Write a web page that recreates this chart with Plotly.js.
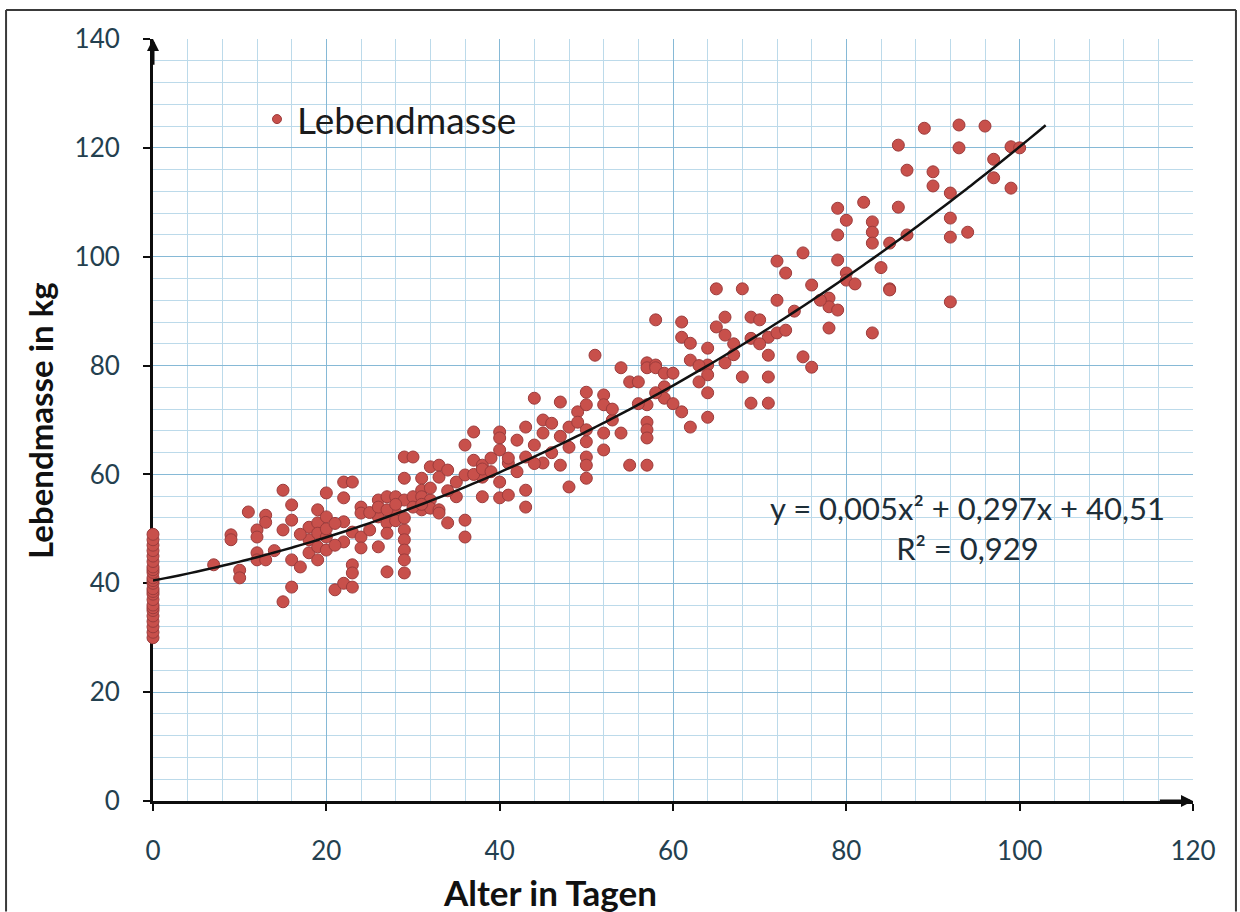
<!DOCTYPE html>
<html>
<head>
<meta charset="utf-8">
<script src="https://cdn.plot.ly/plotly-3.0.1.min.js"></script>
<style>html,body{margin:0;padding:0;background:#fff;}#chart{width:1240px;height:912px;}</style>
</head>
<body>
<div id="chart"></div>
<script>
// Measured points: age in days (x) and live mass in kg (y)
const ageDays = [
  0,0,0,0,0,0,0,0,0,0,0,0,0,0,0,0,0,0,0,0,0,0,0,0,
  7,9,9,10,10,11,12,12,12,12,13,13,13,15,15,15,16,16,16,16,17,18,18,18,
  19,19,19,19,19,20,20,20,20,21,22,22,22,22,22,23,23,23,23,23,24,24,24,24,
  25,26,26,26,27,27,27,27,28,28,29,29,29,29,29,29,29,29,30,30,31,31,31,31,
  32,32,32,33,33,33,33,34,34,35,35,36,36,36,36,37,37,38,38,38,
  40,40,40,40,40,41,41,42,43,43,43,43,44,44,45,45,45,46,47,47,48,48,49,49,
  50,50,50,50,50,50,50,51,52,52,52,52,54,54,55,55,56,
  57,57,57,57,57,57,57,58,58,58,59,59,59,60,61,61,61,62,62,62,
  64,64,64,64,64,65,65,66,66,66,68,68,69,69,70,71,71,71,71,72,72,72,73,73,
  75,75,76,76,78,78,78,79,79,79,79,80,80,80,82,83,83,83,83,85,85,85,86,86,87,87,
  89,90,90,92,92,92,92,93,93,94,96,97,97,99,99,100,
  14,17,20,21,21,25,26,27,28,28,29,30,31,32,34,37,38,39,39,41,42,44,46,47,48,
  53,53,56,58,60,63,63,67,67,69,70,74,77,81,84
];
const massKg = [
  30,31,32,33,34,35,35.5,36,37,38,38.5,39,40,40.5,41,42,42.5,43,44,45,46,47,48,49,
  43.4,48.9,48.0,42.4,41.0,53.1,49.8,48.5,45.6,44.3,52.5,51.2,44.3,57.1,49.8,36.6,54.4,51.6,44.3,39.3,43.0,50.3,48.0,45.6,
  53.5,51.1,49.2,46.7,44.3,56.6,52.2,48.5,46.1,38.8,58.6,55.7,51.3,47.6,40.0,58.6,49.4,43.4,41.9,39.3,54.0,52.9,48.5,46.5,
  49.8,55.3,52.2,46.7,51.1,49.2,42.1,55.9,55.9,53.0,63.2,59.3,55.3,49.8,48.0,46.1,44.3,41.9,63.2,55.9,59.3,57.1,55.9,53.5,
  61.4,55.3,53.8,61.7,59.5,53.5,52.9,60.8,51.1,58.6,55.9,65.4,59.9,51.6,48.5,67.8,62.6,61.7,59.5,55.9,
  67.8,66.7,64.5,58.6,55.7,62.1,56.2,66.3,68.7,63.2,57.1,54.0,74.0,65.4,70.0,67.6,62.1,69.4,73.3,61.7,68.7,57.7,71.5,69.6,
  75.1,72.8,68.2,66.0,63.2,61.7,59.3,81.9,74.6,72.8,67.6,64.5,79.6,67.6,77.0,61.7,77.0,
  80.5,79.6,72.8,69.6,68.2,66.7,61.7,88.4,80.1,79.6,78.6,76.1,74.0,78.6,88.0,85.2,71.5,84.1,81.0,68.7,
  83.2,80.1,78.3,75.0,70.5,94.1,87.1,88.9,85.6,80.5,94.1,77.9,88.9,73.1,88.4,85.2,81.9,77.9,73.1,99.2,92.0,86.0,97.0,86.5,
  100.7,81.6,94.8,79.7,92.4,90.8,86.9,108.9,104.0,99.4,90.2,106.7,97.0,95.7,110.0,106.4,104.5,102.5,86.0,102.5,94.1,93.9,120.5,109.1,115.9,104.0,
  123.6,115.6,113.0,111.7,107.1,103.6,91.7,124.2,120.0,104.5,124.0,117.9,114.5,120.2,112.6,120.0,
  46.0,49.0,50.0,51.0,47.0,53.0,54.0,53.5,54.5,51.5,52.0,54.0,54.5,57.5,57.0,60.0,61.0,60.5,63.0,63.0,60.5,62.0,64.0,67.0,65.0,
  70.0,72.0,73.0,75.0,73.0,80.0,77.0,84.0,82.0,85.0,84.0,90.0,92.0,95.0,98.0
];
// Trendline coefficients as printed in the chart
const trendCoef = {a: 0.005, b: 0.297, c: 40.51};
const trendEndDay = 103;
const xTicks = [0, 20, 40, 60, 80, 100, 120];
const yTicks = [0, 20, 40, 60, 80, 100, 120, 140];
const seriesName = 'Lebendmasse';
const eqText = 'y = 0,005x² + 0,297x + 40,51<br>R² = 0,929';

const trendX = [], trendY = [];
for (let d = 0; d <= trendEndDay; d += 1) {
  trendX.push(d);
  trendY.push(trendCoef.a * d * d + trendCoef.b * d + trendCoef.c);
}

const FONT = 'Lato, "Open Sans", sans-serif';
const TICKCOL = '#23404f';
const MARKER = {color: '#c8504b', line: {width: 1, color: '#9c3c3c'}};

const traces = [
  {
    x: ageDays, y: massKg, type: 'scatter', mode: 'markers', name: seriesName,
    cliponaxis: false, showlegend: false,
    marker: Object.assign({size: 12}, MARKER)
  },
  {
    x: trendX, y: trendY, type: 'scatter', mode: 'lines', showlegend: false,
    line: {color: '#111111', width: 2.5, shape: 'spline'}, hoverinfo: 'skip'
  },
  {
    // legend entry only (smaller symbol, as in the original legend)
    x: [null], y: [null], type: 'scatter', mode: 'markers', name: seriesName,
    showlegend: true, marker: Object.assign({size: 9}, MARKER)
  }
];

const axisCommon = {
  showline: true, linecolor: '#0d0d0d', linewidth: 3,
  ticks: 'outside', ticklen: 7, tickwidth: 2, tickcolor: '#0d0d0d',
  showgrid: true, gridcolor: '#86b9d6', gridwidth: 1,
  zeroline: false, layer: 'below traces',
  tickfont: {family: FONT, size: 26, color: TICKCOL},
  fixedrange: true
};

const layout = {
  width: 1240, height: 912,
  margin: {l: 153, r: 47, t: 39, b: 111},
  paper_bgcolor: '#ffffff', plot_bgcolor: '#ffffff',
  font: {family: FONT, color: '#111'},
  xaxis: Object.assign({}, axisCommon, {
    range: [0, 120], tickvals: xTicks, ticktext: xTicks.map(String),
    ticklabelstandoff: 18,
    minor: {dtick: 4, tick0: 0, showgrid: true, gridcolor: '#bcdaea', gridwidth: 1, ticks: ''}
  }),
  yaxis: Object.assign({}, axisCommon, {
    range: [0, 140], tickvals: yTicks, ticktext: yTicks.map(String),
    ticklabelstandoff: 18,
    minor: {dtick: 4, tick0: 0, showgrid: true, gridcolor: '#bcdaea', gridwidth: 1, ticks: ''}
  }),
  showlegend: true,
  legend: {
    x: 0.1, y: 0.935, xanchor: 'left', yanchor: 'top',
    bgcolor: 'rgba(255,255,255,0)', borderwidth: 0,
    font: {family: FONT, size: 37, color: '#1b1b1b'},
    itemwidth: 30
  },
  annotations: [
    {xref: 'x', yref: 'y', x: 94, y: 50.2, text: eqText, showarrow: false,
     font: {family: FONT, size: 31, color: '#1d2e38'}, align: 'center', xanchor: 'center', yanchor: 'middle'},
    {xref: 'paper', yref: 'paper', x: 0.382, y: -0.119, text: '<b>Alter in Tagen</b>', showarrow: false,
     borderpad: 0, font: {family: FONT, size: 35, color: '#111'}, xanchor: 'center', yanchor: 'middle'},
    {xref: 'paper', yref: 'paper', x: -0.1087, y: 0.5, text: '<b>Lebendmasse in kg</b>', showarrow: false,
     textangle: -90, font: {family: FONT, size: 33, color: '#111'}, xanchor: 'center', yanchor: 'middle'},
    {xref: 'x', yref: 'y', axref: 'x', ayref: 'y', x: 120, y: 0, ax: 116, ay: 0, text: '', showarrow: true,
     arrowhead: 2, arrowsize: 0.8, arrowwidth: 3, arrowcolor: '#0d0d0d'},
    {xref: 'x', yref: 'y', axref: 'x', ayref: 'y', x: 0, y: 140, ax: 0, ay: 135, text: '', showarrow: true,
     arrowhead: 2, arrowsize: 0.8, arrowwidth: 3, arrowcolor: '#0d0d0d'}
  ],
  shapes: [
    {type: 'line', xref: 'paper', yref: 'paper', x0: -0.1413, x1: 1.0413, y0: 1.038, y1: 1.038, line: {color: '#3a3a3a', width: 2}},
    {type: 'line', xref: 'paper', yref: 'paper', x0: -0.1413, x1: -0.1413, y0: 1.038, y1: -0.145, line: {color: '#3a3a3a', width: 2}},
    {type: 'line', xref: 'paper', yref: 'paper', x0: 1.0413, x1: 1.0413, y0: 1.038, y1: -0.145, line: {color: '#3a3a3a', width: 2}}
  ]
};

Plotly.newPlot('chart', traces, layout, {displayModeBar: false, staticPlot: true});
</script>
</body>
</html>
